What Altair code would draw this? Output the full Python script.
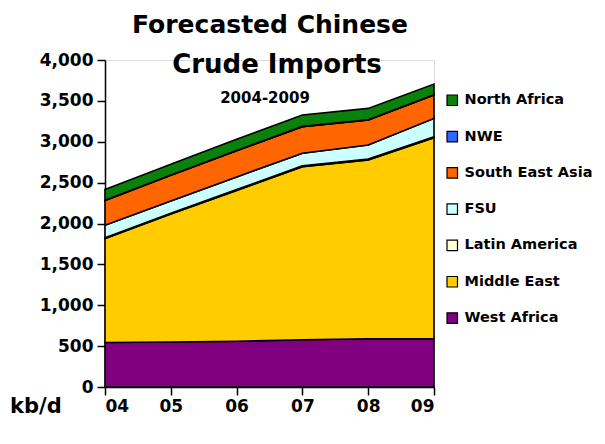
import altair as alt
import pandas as pd

years = [2004, 2005, 2006, 2007, 2008, 2009]
regions = ["North Africa", "NWE", "South East Asia", "FSU", "Latin America", "Middle East", "West Africa"]
colors = ["#0a820a", "#3366ff", "#ff6600", "#ccffff", "#ffffcc", "#ffcc00", "#800080"]
stack_order = {"West Africa": 0, "Middle East": 1, "Latin America": 2, "FSU": 3,
               "South East Asia": 4, "NWE": 5, "North Africa": 6}

west_africa = [545, 550, 560, 578, 590, 592]
middle_east = [1270, 1565, 1845, 2117, 2188, 2458]
latin_america = [10, 10, 10, 10, 10, 10]
fsu = [155, 150, 155, 155, 172, 226]
south_east_asia = [300, 315, 320, 325, 305, 286]
nwe = [3, 3, 3, 3, 3, 3]
north_africa = [134, 132, 137, 139, 140, 131]

series = {
    "West Africa": west_africa,
    "Middle East": middle_east,
    "Latin America": latin_america,
    "FSU": fsu,
    "South East Asia": south_east_asia,
    "NWE": nwe,
    "North Africa": north_africa,
}

rows = []
for name, vals in series.items():
    for y, v in zip(years, vals):
        rows.append({"year": y, "region": name, "value": v, "ord": stack_order[name]})
df = pd.DataFrame(rows)

FONT = "DejaVu Sans"

area = alt.Chart(df).mark_area(stroke="black", strokeWidth=1.6, opacity=1).encode(
    x=alt.X("year:Q", scale=alt.Scale(domain=[2004, 2009], nice=False),
            axis=alt.Axis(values=years, labelExpr="substring(toString(datum.value), 2)",
                          title=None, grid=False, domainColor="black", domainWidth=1.5,
                          tickColor="black", tickWidth=1.5, tickSize=8, labelPadding=3,
                          labelFont=FONT, labelFontWeight="bold", labelFontSize=17,
                          labelColor="black")),
    y=alt.Y("value:Q", stack="zero", scale=alt.Scale(domain=[0, 4000], nice=False),
            axis=alt.Axis(values=list(range(0, 4001, 500)), format=",d", title=None,
                          grid=False, domainColor="black", domainWidth=1.5,
                          tickColor="black", tickWidth=1.5, tickSize=8, labelPadding=4,
                          labelFont=FONT, labelFontWeight="bold", labelFontSize=17,
                          labelColor="black")),
    color=alt.Color("region:N", scale=alt.Scale(domain=regions, range=colors),
                    legend=alt.Legend(orient="none", legendX=340, legendY=33, title=None,
                                      symbolType="square", symbolSize=110,
                                      symbolStrokeColor="black", symbolStrokeWidth=1.2,
                                      labelFont=FONT, labelFontWeight="bold",
                                      labelFontSize=14.5, labelColor="black",
                                      rowPadding=20.3, labelOffset=5, labelLimit=200)),
    order=alt.Order("ord:Q", sort="ascending"),
)


def label(txt, x, y, size, align="center"):
    return alt.Chart(pd.DataFrame({"t": [txt]})).mark_text(
        font=FONT, fontWeight="bold", fontSize=size, color="black",
        align=align, baseline="alphabetic").encode(
        text="t:N", x=alt.value(x), y=alt.value(y))


chart = alt.layer(
    area,
    label("Forecasted Chinese", 165, -27, 25),
    label("Crude Imports", 172, 13, 26),
    label("2004-2009", 160, 43, 15),
    label("kb/d", -95, 353, 21, align="left"),
).properties(
    width=329, height=327,
    autosize=alt.AutoSizeParams(type="none"),
    padding={"left": 97, "top": 52, "right": 163, "bottom": 49},
).configure_view(stroke=None).configure(background="white")

chart.save("out.html", embed_options={"renderer": "svg", "actions": False})
